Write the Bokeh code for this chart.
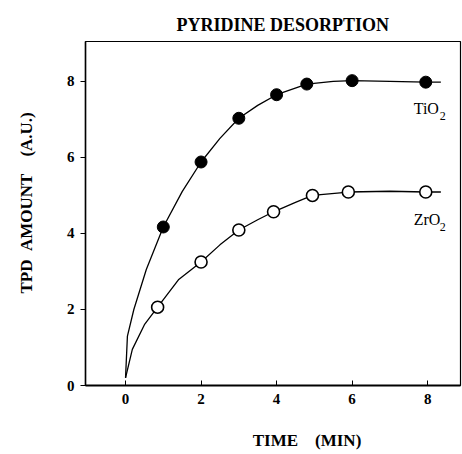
from bokeh.plotting import figure
from bokeh.models import Range1d, FixedTicker, Label
from bokeh.embed import file_html
from bokeh.resources import INLINE

# Measured data points
ti_x = [1.0, 2.0, 3.0, 4.0, 4.8, 6.0, 7.95]
ti_y = [4.17, 5.88, 7.03, 7.65, 7.93, 8.02, 7.98]
zr_x = [0.85, 2.0, 3.0, 3.92, 4.95, 5.9, 7.95]
zr_y = [2.06, 3.25, 4.09, 4.57, 5.0, 5.09, 5.09]

# Fitted curves
ti_curve_x = [0.0, 0.05, 0.22, 0.55, 1.0, 1.5, 2.0, 2.5, 3.0, 3.5, 4.0, 4.8, 5.5, 6.0, 7.0, 7.95, 8.35]
ti_curve_y = [0.2, 1.3, 2.0, 3.05, 4.17, 5.1, 5.88, 6.5, 7.03, 7.37, 7.65, 7.93, 8.0, 8.02, 8.0, 7.98, 7.98]
zr_curve_x = [0.0, 0.18, 0.5, 0.85, 1.4, 2.0, 2.5, 3.0, 3.5, 3.92, 4.5, 4.95, 5.9, 7.0, 7.95, 8.35]
zr_curve_y = [0.2, 0.95, 1.6, 2.06, 2.78, 3.25, 3.7, 4.09, 4.36, 4.57, 4.82, 5.0, 5.09, 5.11, 5.09, 5.09]

x_ticks = [0, 2, 4, 6, 8]
y_ticks = [0, 2, 4, 6, 8]

FONT = "Liberation Serif"

p = figure(width=462, height=454, output_backend="svg", toolbar_location=None,
           x_range=Range1d(-1.06, 8.87), y_range=Range1d(0, 9.05),
           min_border_left=85, min_border_right=2, min_border_top=41, min_border_bottom=69,
           title="PYRIDINE DESORPTION")

p.title.text_font = FONT
p.title.text_font_style = "bold"
p.title.text_font_size = "18px"
p.title.text_color = "black"
p.title.align = "left"
p.title.offset = 91
p.title.standoff = 14
p.title.text_line_height = 0.8

p.grid.visible = False
p.outline_line_color = "black"
p.outline_line_width = 1.2
p.background_fill_color = "white"
p.border_fill_color = "white"

p.xaxis.ticker = FixedTicker(ticks=x_ticks)
p.yaxis.ticker = FixedTicker(ticks=y_ticks)
for ax in (p.xaxis[0], p.yaxis[0]):
    ax.minor_tick_line_color = None
    ax.axis_line_color = "black"
    ax.major_tick_line_color = "black"
    ax.major_label_text_font = FONT
    ax.major_label_text_font_style = "bold"
    ax.major_label_text_font_size = "15px"
    ax.major_label_text_color = "black"
    ax.axis_label_text_font = FONT
    ax.axis_label_text_font_style = "bold"
    ax.axis_label_text_font_size = "17px"
    ax.axis_label_text_color = "black"

p.xaxis.axis_line_width = 2
p.xaxis.major_tick_in = 5
p.xaxis.major_tick_out = 0
p.xaxis.major_label_standoff = 8
p.xaxis.axis_label = "\u00a0" * 16 + "TIME\u00a0\u00a0\u00a0\u00a0(MIN)"
p.xaxis.axis_label_standoff = 24

p.yaxis.axis_line_width = 1.5
p.yaxis.major_tick_in = 0
p.yaxis.major_tick_out = 5
p.yaxis.major_label_standoff = 6
p.yaxis.axis_label = "\u00a0" * 5 + "TPD\u00a0\u00a0AMOUNT\u00a0\u00a0\u00a0\u00a0(A.U.)"
p.yaxis.axis_label_standoff = 28

p.line(ti_curve_x, ti_curve_y, line_color="black", line_width=1.3)
p.line(zr_curve_x, zr_curve_y, line_color="black", line_width=1.3)
p.scatter(ti_x, ti_y, marker="circle", size=12, fill_color="black", line_color="black")
p.scatter(zr_x, zr_y, marker="circle", size=12, fill_color="white", line_color="black", line_width=1.6)

for lx, ly, name in [(7.63, 7.06, "TiO"), (7.63, 4.14, "ZrO")]:
    p.add_layout(Label(x=lx, y=ly, text=name, text_font=FONT, text_font_size="16px",
                       text_color="black"))
    p.add_layout(Label(x=lx, y=ly, x_offset=26, y_offset=-3, text="2", text_font=FONT,
                       text_font_size="12px", text_color="black"))

open("out.html", "w").write(file_html(p, INLINE))
